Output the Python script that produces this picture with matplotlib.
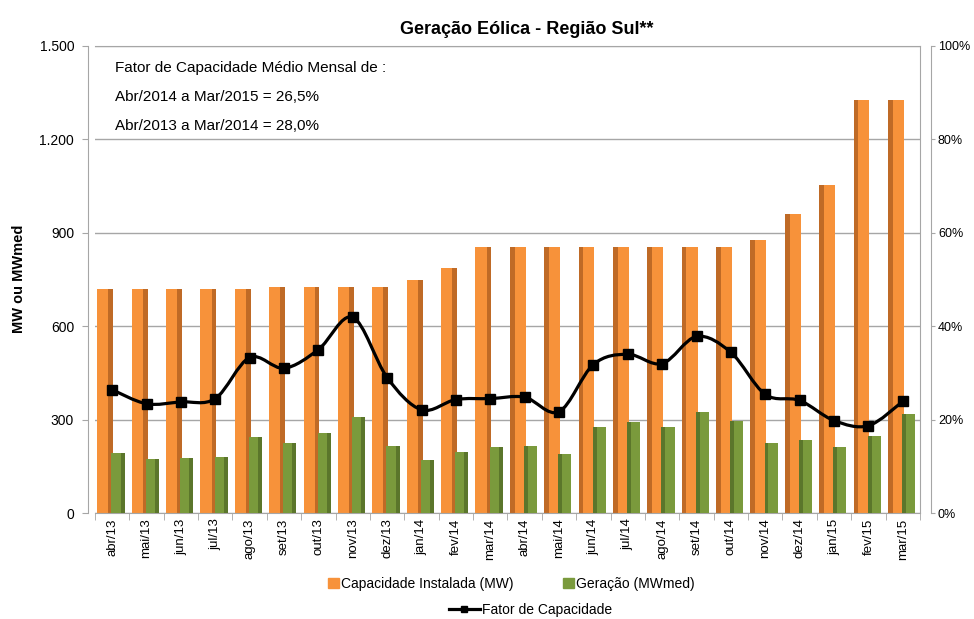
#
#  Geracao eolica - Regiao Sul: capacidade instalada, geracao e fator
#  de capacidade mensal (abr/13 a mar/15)
#
import numpy as np
import matplotlib
matplotlib.use('Agg')
import matplotlib.pyplot as plt
from matplotlib.path import Path
from matplotlib.patches import PathPatch, Patch
from matplotlib.lines import Line2D
from matplotlib.ticker import FuncFormatter

plt.rcParams['font.family'] = ['Liberation Sans', 'DejaVu Sans']

meses = ['abr/13', 'mai/13', 'jun/13', 'jul/13', 'ago/13', 'set/13', 'out/13',
         'nov/13', 'dez/13', 'jan/14', 'fev/14', 'mar/14', 'abr/14', 'mai/14',
         'jun/14', 'jul/14', 'ago/14', 'set/14', 'out/14', 'nov/14', 'dez/14',
         'jan/15', 'fev/15', 'mar/15']
capacidade = [719, 719, 718, 718, 718, 725, 726, 726, 726, 748, 787, 856,
              856, 856, 856, 856, 856, 856, 856, 878, 962, 1052, 1328, 1328]
geracao = [193, 173, 176, 180, 244, 225, 257, 308, 215, 170, 196, 213,
           215, 190, 276, 292, 277, 324, 296, 225, 235, 213, 247, 318]
fator = [26.4, 23.4, 23.8, 24.5, 33.3, 31.0, 35.0, 41.9, 29.0, 22.1, 24.3, 24.5,
         24.8, 21.7, 31.8, 34.0, 32.0, 37.8, 34.4, 25.4, 24.1, 19.8, 18.7, 23.9]

orange = '#F7923A'
orange_dk = '#A85A1E'
green = '#7A9A3C'
green_dk = '#4F6724'
grid_c = '#A6A6A6'

def smooth_path(xs, ys):
    # Catmull-Rom segments turned into cubic bezier curves (Excel smooth line)
    pts = np.column_stack([xs, ys]).astype(float)
    n = len(pts)
    verts = [pts[0]]
    codes = [Path.MOVETO]
    for i in range(n - 1):
        p0 = pts[max(i - 1, 0)]
        p1 = pts[i]
        p2 = pts[i + 1]
        p3 = pts[min(i + 2, n - 1)]
        c1 = p1 + (p2 - p0) / 6.0
        c2 = p2 - (p3 - p1) / 6.0
        verts += [c1, c2, p2]
        codes += [Path.CURVE4] * 3
    return Path(verts, codes)

x = np.arange(len(meses))
fig = plt.figure(figsize=(9.74, 6.19), dpi=100)
ax = fig.add_axes([0.0975, 0.1712, 0.847, 0.7545])
ax2 = ax.twinx()

# bars with a darker strip on one side to fake the 3D cylinder look
# (shadow on the right for the left half, on the left for the right half)
wo, wg = 0.46, 0.38
side = np.where(x < 12, 1, -1)
ax.bar(x - 0.2, capacidade, wo, color=orange, zorder=2)
ax.bar(x - 0.2 + side * wo * 0.35, capacidade, wo * 0.3, color=orange_dk, zorder=2, alpha=0.7)
ax.bar(x + 0.17, geracao, wg, color=green, zorder=3)
ax.bar(x + 0.17 + side * wg * 0.35, geracao, wg * 0.3, color=green_dk, zorder=3, alpha=0.7)

ax.set_xlim(-0.5, 23.3)
ax.set_ylim(0, 1500)
ax.set_yticks(np.arange(0, 1501, 300))
ax.yaxis.set_major_formatter(FuncFormatter(lambda v, p: f'{int(v):,}'.replace(',', '.')))
ax.grid(axis='y', color=grid_c, lw=1, zorder=0)
ax.set_axisbelow(True)
ax.set_xticks(x)
ax.set_xticklabels(meses, rotation=90, fontsize=9.5)
ax.set_xticks(np.arange(-0.5, 23.6, 1), minor=True)
ax.tick_params(axis='x', which='major', length=0, pad=4)
ax.tick_params(axis='x', which='minor', length=5, color=grid_c)
ax.tick_params(axis='y', labelsize=10, length=4, color=grid_c, pad=6)
for s in ['top', 'right', 'bottom']:
    ax.spines[s].set_color(grid_c)
ax.spines['left'].set_color(grid_c)
ax.spines['left'].set_position(('outward', 5))

ax2.set_ylim(0, 100)
ax2.set_yticks(np.arange(0, 101, 20))
ax2.yaxis.set_major_formatter(FuncFormatter(lambda v, p: f'{int(v)}%'))
ax2.tick_params(axis='y', labelsize=9, length=3, color=grid_c, pad=2)
ax2.spines['right'].set_position(('outward', 8))
ax2.spines['right'].set_color(grid_c)
for s in ['top', 'left', 'bottom']:
    ax2.spines[s].set_visible(False)

ax2.add_patch(PathPatch(smooth_path(x, fator), fill=False, lw=2.3,
                        edgecolor='black', zorder=5))
ax2.plot(x, fator, 's', color='black', ms=6.5, zorder=6)

fig.text(0.541, 0.952, 'Geração Eólica - Região Sul**', ha='center', va='center',
         fontsize=13, fontweight='bold')
fig.text(0.02, 0.55, 'MW ou MWmed', rotation=90, ha='center', va='center',
         fontsize=10.5, fontweight='bold')

notas = ['Fator de Capacidade Médio Mensal de :',
         'Abr/2014 a Mar/2015 = 26,5%',
         'Abr/2013 a Mar/2014 = 28,0%']
for i, t in enumerate(notas):
    fig.text(115 / 974, 1 - (68 + 29 * i) / 619, t, ha='left', va='center', fontsize=11)

leg1 = fig.legend(handles=[Patch(color=orange, label='Capacidade Instalada (MW)'),
                           Patch(color=green, label='Geração (MWmed)')],
                  loc='center', bbox_to_anchor=(0.525, 0.057), ncol=2, frameon=False,
                  fontsize=10, handlelength=0.8, handleheight=0.8, handletextpad=0.2,
                  columnspacing=3.5)
leg2 = fig.legend(handles=[Line2D([], [], color='black', lw=2.3, marker='s', ms=5,
                                  label='Fator de Capacidade')],
                  loc='center', bbox_to_anchor=(0.545, 0.014), frameon=False,
                  fontsize=10, handlelength=2.2, handletextpad=0.2)

fig.savefig('out.png', dpi=100)
